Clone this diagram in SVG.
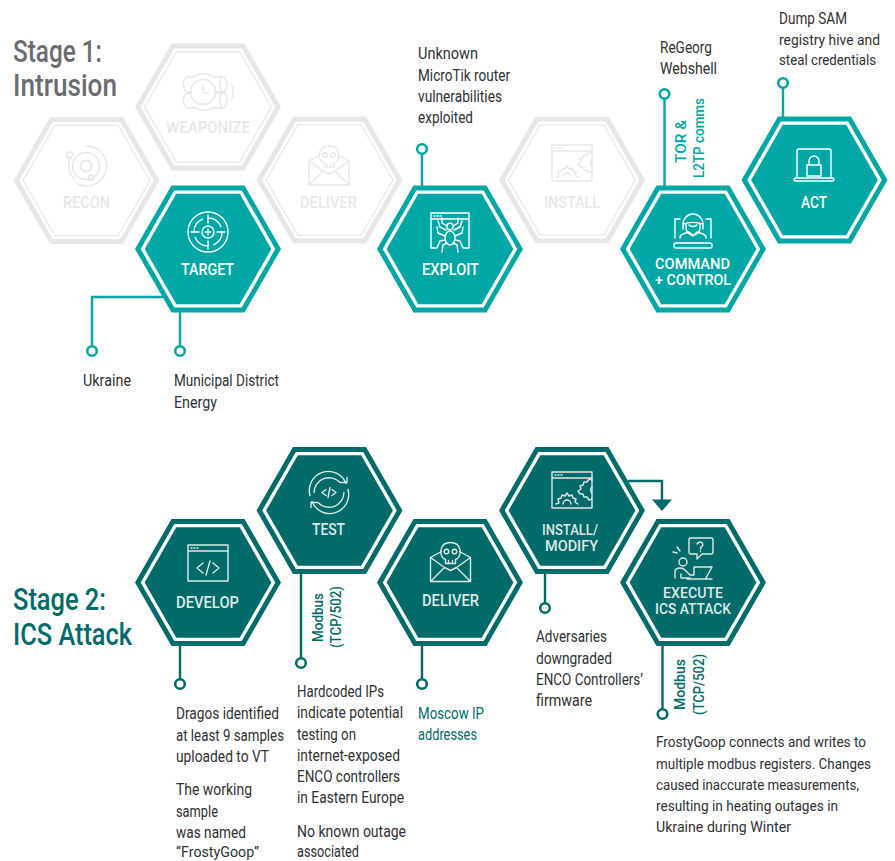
<svg xmlns="http://www.w3.org/2000/svg" width="895" height="861" viewBox="0 0 895 861">
<style>
text{font-family:Roboto,"Open Sans",sans-serif;font-size:16px;fill:#2f3133}
.sm{font-size:15px}
.st{font-size:31px;font-weight:500}
.s1{fill:#6a6c70}.s2{fill:#006b68}
.nl{font-size:17px;font-weight:500}
.n2{font-size:15.500px;font-weight:500}
.wt{fill:#fff}.lt{fill:#dfe9e8}.gt{fill:#e6e7eb}
.rt{font-size:15.500px;font-weight:500}
.t1{fill:#00a7a5}.t2{fill:#006b68}
.ti{fill:#006b68}
.a{fill:#00a7a5}.d{fill:#006b68}.g{fill:#e6e7eb}.w{fill:#fff}
.gl{fill:none;stroke:#e6e7eb;stroke-width:1.2}
.ic{fill:none;stroke-width:1.400;stroke-linecap:round;stroke-linejoin:round}
.iw{stroke:#fff}.il{stroke:#dfe9e8}.ig{stroke:#e6e7eb}
.c1{fill:none;stroke:#00a7a5;stroke-width:2.400}
.c2{fill:none;stroke:#006b68;stroke-width:2.400}
.p1{fill:#fff;stroke:#00a7a5;stroke-width:2.600}
.p2{fill:#fff;stroke:#006b68;stroke-width:2.600}
</style>
<defs>
<polygon id="h0" points="73,0 36.500,-63.500 -36.500,-63.500 -73,0 -36.500,63.500 36.500,63.500"/>
<polygon id="h1" points="67.300,0 33.700,-58.600 -33.700,-58.600 -67.300,0 -33.700,58.600 33.700,58.600"/>
<polygon id="h2" points="63.400,0 31.700,-55.200 -31.700,-55.200 -63.400,0 -31.700,55.200 31.700,55.200"/>
<g id="env"><path d="M-20,-3V21H20V-3L9,-9M-20,-3L-9,-9M-20,-3L-6,7L0,10L6,7L20,-3M-20,21L-6,7M20,21L6,7"/><path d="M-5,3V-1C-12,-3 -12,-18 0,-18C12,-18 12,-3 5,-1V3ZM-2,0V3M2,0V3"/><circle cx="-4" cy="-9" r="2.300"/><circle cx="4" cy="-9" r="2.300"/></g>
<g id="win"><rect x="-20" y="-18" width="40" height="36"/><path d="M-20,-12H20M-17,-15H-16M-14,-15H-13M-11,-15H-10"/></g>
<g id="gears"><path d="M-16,14L-13,13L-14,9L-11,8L-10,5L-7,6L-5,3L-3,6L0,5L1,8L4,9L3,12L6,14M-9,14A4,4 0 0 1 -1,14"/><path d="M20,-10L17,-11L15,-8L12,-8L11,-5L8,-4L9,-1L6,1L8,4L11,4L12,7L15,7L17,10L20,9M20,-3A4,4 0 0 0 20,3"/></g>
</defs>

<g id="connectors">
<path class="c1" d="M163,297H92V346"/><circle class="p1" cx="92" cy="351" r="4.800"/>
<path class="c1" d="M180,312V346"/><circle class="p1" cx="180" cy="351" r="4.800"/>
<path class="c1" d="M422,186V154"/><circle class="p1" cx="422" cy="149" r="4.800"/>
<path class="c1" d="M664.500,186V99"/><circle class="p1" cx="664.500" cy="94" r="4.800"/>
<path class="c1" d="M783,118V88"/><circle class="p1" cx="783" cy="83" r="4.800"/>
<path class="c2" d="M180,645V679"/><circle class="p2" cx="180" cy="684" r="4.800"/>
<path class="c2" d="M301,573V658"/><circle class="p2" cx="301" cy="663" r="4.800"/>
<path class="c2" d="M422,645V679"/><circle class="p2" cx="422" cy="684" r="4.800"/>
<path class="c2" d="M545,573V603"/><circle class="p2" cx="545" cy="608" r="4.800"/>
<path class="c2" d="M662.500,645V709"/><circle class="p2" cx="662.500" cy="714" r="4.800"/>
<path class="c2" d="M628,481H662V500"/><polygon class="d" points="652,499.500 672,499.500 662,511"/>
</g>

<g id="stage1-title">
<text class="st s1" x="13" y="62" textLength="89" lengthAdjust="spacingAndGlyphs">Stage 1:</text>
<text class="st s1" x="13" y="96" textLength="104" lengthAdjust="spacingAndGlyphs">Intrusion</text>
</g>
<g id="stage2-title">
<text class="st s2" x="13" y="610" textLength="93" lengthAdjust="spacingAndGlyphs">Stage 2:</text>
<text class="st s2" x="13" y="645" textLength="119" lengthAdjust="spacingAndGlyphs">ICS Attack</text>
</g>

<g id="recon">
<g transform="translate(86.500,180.500)"><use href="#h0" class="g"/><use href="#h1" class="w"/><use href="#h2" class="gl"/></g>
<g class="ic ig" transform="translate(86,166)"><path d="M0,-20A20,20 0 1 1 -8,18M-16,-8C-18,-2 -18,6 -12,13"/><circle r="13.500"/><circle r="5.500" stroke-dasharray="3 1.500" stroke-width="2"/><circle cx="-16.500" cy="-11" r="3"/><circle cx="5" cy="11.500" r="2.800"/></g>
<text class="nl gt" x="63" y="208" textLength="47" lengthAdjust="spacingAndGlyphs">RECON</text>
</g>
<g id="weaponize">
<g transform="translate(208,107)"><use href="#h0" class="g"/><use href="#h1" class="w"/><use href="#h2" class="gl"/></g>
<g class="ic ig" transform="translate(203,92)"><circle r="12.500"/><path d="M0,-7V1H6M-10,-15H-15C-21,-15 -21,0 -15,0H-12M-12,1H-15C-21,1 -21,16 -15,16H-10M10,-15H20C25,-15 25,0 20,0H12M12,1H20C25,1 25,16 20,16H10M20,-15C16,-15 16,0 20,0M20,1C16,1 16,16 20,16M-10,-15L-4,-18H5L10,-15M-10,15L-4,18H5L10,15M28,-8C31,-4 31,4 28,8"/></g>
<text class="nl gt" x="166" y="133" textLength="84" lengthAdjust="spacingAndGlyphs">WEAPONIZE</text>
</g>
<g id="deliver-1">
<g transform="translate(329.500,180)"><use href="#h0" class="g"/><use href="#h1" class="w"/><use href="#h2" class="gl"/></g>
<g class="ic ig" transform="translate(329,164)"><use href="#env"/></g>
<text class="nl gt" x="300" y="208" textLength="57" lengthAdjust="spacingAndGlyphs">DELIVER</text>
</g>
<g id="target">
<g transform="translate(208,249)"><use href="#h0" class="a"/><use href="#h1" class="w"/><use href="#h2" class="a"/></g>
<g class="ic iw" transform="translate(208,232)"><circle r="20"/><circle r="14" stroke-dasharray="16 6"/><circle r="6"/><path d="M0,-17V-9M0,9V17M-17,0H-9M9,0H17M0,-3V3M-3,0H3"/></g>
<text class="nl wt" x="181" y="275" textLength="53" lengthAdjust="spacingAndGlyphs">TARGET</text>
</g>
<g id="exploit">
<g transform="translate(450,249)"><use href="#h0" class="a"/><use href="#h1" class="w"/><use href="#h2" class="a"/></g>
<g class="ic iw" transform="translate(450,230)"><path d="M-14,18H-19V-17H19V18H14M-19,-11H19M-16,-14H-15M-13,-14H-12M-10,-14H-9"/><ellipse cy="8" rx="5" ry="7"/><circle cy="-3.500" r="3.200"/><path d="M-3,-4L-8,-7V-12M3,-4L8,-7V-12M-4,0L-10,-3L-12,-9M4,0L10,-3L12,-9M-5,6L-12,3L-13,-3M5,6L12,3L13,-3M-5,10L-10,11L-13,18M5,10L10,11L13,18M-3,13L-7,15L-8,22M3,13L7,15L8,22"/></g>
<text class="nl wt" x="422" y="275" textLength="57" lengthAdjust="spacingAndGlyphs">EXPLOIT</text>
</g>
<g id="install-1">
<g transform="translate(572,180)"><use href="#h0" class="g"/><use href="#h1" class="w"/><use href="#h2" class="gl"/></g>
<g class="ic ig" transform="translate(572,163)"><use href="#win"/><use href="#gears"/></g>
<text class="nl gt" x="544" y="208" textLength="56" lengthAdjust="spacingAndGlyphs">INSTALL</text>
</g>
<g id="command-control">
<g transform="translate(693,249)"><use href="#h0" class="a"/><use href="#h1" class="w"/><use href="#h2" class="a"/></g>
<g class="ic iw" transform="translate(693,234)"><path d="M-13,-15H-18V4M13,-15H18V4"/><rect x="-19" y="9" width="38" height="5" rx="2"/><path d="M-10,-10A10,10 0 0 1 10,-10C4,-12 -4,-12 -10,-10ZM-7,-10V-6A7,7 0 0 0 7,-6V-10M-10,-10V-5M10,-10V-5M-4,-9C-2,-7 2,-7 4,-9M-13,4V3C-13,0 -8,-1 -4,-2L0,2L4,-2C8,-1 13,0 13,3V4"/></g>
<text class="n2 wt" x="655" y="269" textLength="75" lengthAdjust="spacingAndGlyphs">COMMAND</text>
<text class="n2 wt" x="655" y="285" textLength="76" lengthAdjust="spacingAndGlyphs">+ CONTROL</text>
</g>
<g id="act">
<g transform="translate(814.500,180)"><use href="#h0" class="a"/><use href="#h1" class="w"/><use href="#h2" class="a"/></g>
<g class="ic iw" transform="translate(814,164)"><path d="M-17,14V-13Q-17,-15 -15,-15H15Q17,-15 17,-13V14"/><rect x="-20" y="14" width="40" height="3" rx="1.500"/><path d="M-7,1H7V12H-7ZM-5,1V-3A5,5 0 0 1 5,-3V1"/></g>
<text class="nl wt" x="801" y="208" textLength="26" lengthAdjust="spacingAndGlyphs">ACT</text>
</g>

<g id="develop">
<g transform="translate(208,582.500)"><use href="#h0" class="d"/><use href="#h1" class="w"/><use href="#h2" class="d"/></g>
<g class="ic il" transform="translate(208,563)"><use href="#win"/><path d="M-5,0L-11,5L-5,10M5,0L11,5L5,10M2,-2L-2,12"/></g>
<text class="nl lt" x="176" y="608" textLength="63" lengthAdjust="spacingAndGlyphs">DEVELOP</text>
</g>
<g id="test">
<g transform="translate(329.500,510.500)"><use href="#h0" class="d"/><use href="#h1" class="w"/><use href="#h2" class="d"/></g>
<g class="ic il" transform="translate(329,492.500)"><path d="M-19,3A19,19 0 0 1 17,-9M19,-3A19,19 0 0 1 -17,9M12,-10H18V-15M-12,10H-18V15M-15,0A15,15 0 0 1 11,-10M15,0A15,15 0 0 1 -11,10M-3,-3L-7,0L-3,3M3,-3L7,0L3,3M1,-5L-1,5"/></g>
<text class="nl lt" x="312" y="535" textLength="33" lengthAdjust="spacingAndGlyphs">TEST</text>
</g>
<g id="deliver-2">
<g transform="translate(450,582.500)"><use href="#h0" class="d"/><use href="#h1" class="w"/><use href="#h2" class="d"/></g>
<g class="ic il" transform="translate(450.500,560.500)"><use href="#env"/></g>
<text class="nl lt" x="422" y="606" textLength="57" lengthAdjust="spacingAndGlyphs">DELIVER</text>
</g>
<g id="install-modify">
<g transform="translate(572,510.500)"><use href="#h0" class="d"/><use href="#h1" class="w"/><use href="#h2" class="d"/></g>
<g class="ic il" transform="translate(572,490)"><use href="#win"/><use href="#gears"/></g>
<text class="n2 lt" x="542" y="535" textLength="56" lengthAdjust="spacingAndGlyphs">INSTALL/</text>
<text class="n2 lt" x="545" y="551" textLength="53" lengthAdjust="spacingAndGlyphs">MODIFY</text>
</g>
<g id="execute">
<g transform="translate(693,582.500)"><use href="#h0" class="d"/><use href="#h1" class="w"/><use href="#h2" class="d"/></g>
<g class="ic il" transform="translate(693,558)"><path d="M-4,-18Q-4,-20 -2,-20H18Q20,-20 20,-18V-6Q20,-4 18,-4H9L4,1V-4H-2Q-4,-4 -4,-6ZM4,-14Q6,-17 9,-15.500Q11,-12 8,-11L7.500,-9M7.500,-7V-6.500M-16,-5L-20,-6M-13,-7L-16,-11"/><circle cx="-10" cy="4" r="4"/><path d="M-18,20V14Q-18,10 -13,10Q-10,10 -8,12L-3,17H1L1,9H19L13,20M-12,16V20H-3M-6,21H19"/></g>
<text class="n2 lt" x="663" y="598" textLength="60" lengthAdjust="spacingAndGlyphs">EXECUTE</text>
<text class="n2 lt" x="655" y="614" textLength="76" lengthAdjust="spacingAndGlyphs">ICS ATTACK</text>
</g>

<g id="labels">
<text x="418" y="59" textLength="60" lengthAdjust="spacingAndGlyphs">Unknown</text>
<text x="418" y="81" textLength="92" lengthAdjust="spacingAndGlyphs">MicroTik router</text>
<text x="418" y="102" textLength="84" lengthAdjust="spacingAndGlyphs">vulnerabilities</text>
<text x="418" y="123" textLength="55" lengthAdjust="spacingAndGlyphs">exploited</text>
<text x="660" y="53" textLength="52" lengthAdjust="spacingAndGlyphs">ReGeorg</text>
<text x="660" y="74" textLength="57" lengthAdjust="spacingAndGlyphs">Webshell</text>
<text x="779" y="24" textLength="68" lengthAdjust="spacingAndGlyphs">Dump SAM</text>
<text class="sm" x="779" y="45" textLength="101" lengthAdjust="spacingAndGlyphs">registry hive and</text>
<text class="sm" x="779" y="65" textLength="97" lengthAdjust="spacingAndGlyphs">steal credentials</text>
<text x="83" y="386" textLength="48" lengthAdjust="spacingAndGlyphs">Ukraine</text>
<text x="174" y="386" textLength="105" lengthAdjust="spacingAndGlyphs">Municipal District</text>
<text x="174" y="408" textLength="43" lengthAdjust="spacingAndGlyphs">Energy</text>
<text x="176" y="719" textLength="103" lengthAdjust="spacingAndGlyphs">Dragos identified</text>
<text x="176" y="741" textLength="108" lengthAdjust="spacingAndGlyphs">at least 9 samples</text>
<text x="176" y="762" textLength="93" lengthAdjust="spacingAndGlyphs">uploaded to VT</text>
<text x="176" y="795" textLength="76" lengthAdjust="spacingAndGlyphs">The working</text>
<text x="176" y="817" textLength="42" lengthAdjust="spacingAndGlyphs">sample</text>
<text x="176" y="838" textLength="70" lengthAdjust="spacingAndGlyphs">was named</text>
<text class="sm" x="176" y="857" textLength="83" lengthAdjust="spacingAndGlyphs">“FrostyGoop”</text>
<text x="297" y="697" textLength="87" lengthAdjust="spacingAndGlyphs">Hardcoded IPs</text>
<text x="297" y="718" textLength="106" lengthAdjust="spacingAndGlyphs">indicate potential</text>
<text x="297" y="740" textLength="59" lengthAdjust="spacingAndGlyphs">testing on</text>
<text x="297" y="761" textLength="103" lengthAdjust="spacingAndGlyphs">internet-exposed</text>
<text x="297" y="782" textLength="103" lengthAdjust="spacingAndGlyphs">ENCO controllers</text>
<text x="297" y="803" textLength="107" lengthAdjust="spacingAndGlyphs">in Eastern Europe</text>
<text x="297" y="837" textLength="109" lengthAdjust="spacingAndGlyphs">No known outage</text>
<text x="297" y="857" textLength="62" lengthAdjust="spacingAndGlyphs">associated</text>
<text class="ti" x="418" y="719" textLength="66" lengthAdjust="spacingAndGlyphs">Moscow IP</text>
<text class="ti" x="418" y="740" textLength="59" lengthAdjust="spacingAndGlyphs">addresses</text>
<text x="536" y="642" textLength="71" lengthAdjust="spacingAndGlyphs">Adversaries</text>
<text x="536" y="664" textLength="76" lengthAdjust="spacingAndGlyphs">downgraded</text>
<text x="536" y="685" textLength="107" lengthAdjust="spacingAndGlyphs">ENCO Controllers’</text>
<text x="536" y="706" textLength="56" lengthAdjust="spacingAndGlyphs">firmware</text>
<text class="sm" x="656" y="747" textLength="210" lengthAdjust="spacingAndGlyphs">FrostyGoop connects and writes to</text>
<text class="sm" x="656" y="769" textLength="215" lengthAdjust="spacingAndGlyphs">multiple modbus registers. Changes</text>
<text class="sm" x="656" y="790" textLength="203" lengthAdjust="spacingAndGlyphs">caused inaccurate measurements,</text>
<text class="sm" x="656" y="811" textLength="182" lengthAdjust="spacingAndGlyphs">resulting in heating outages in</text>
<text class="sm" x="656" y="832" textLength="135" lengthAdjust="spacingAndGlyphs">Ukraine during Winter</text>
<text class="rt t1" transform="translate(686,163) rotate(-90)" textLength="43" lengthAdjust="spacingAndGlyphs">TOR &amp;</text>
<text class="rt t1" transform="translate(704,178) rotate(-90)" textLength="80" lengthAdjust="spacingAndGlyphs">L2TP comms</text>
<text class="rt t2" transform="translate(323,642) rotate(-90)" textLength="49" lengthAdjust="spacingAndGlyphs">Modbus</text>
<text class="rt t2" transform="translate(341,648) rotate(-90)" textLength="62" lengthAdjust="spacingAndGlyphs">(TCP/502)</text>
<text class="rt t2" transform="translate(685,710) rotate(-90)" textLength="51" lengthAdjust="spacingAndGlyphs">Modbus</text>
<text class="rt t2" transform="translate(704,715) rotate(-90)" textLength="61" lengthAdjust="spacingAndGlyphs">(TCP/502)</text>
</g>
</svg>
